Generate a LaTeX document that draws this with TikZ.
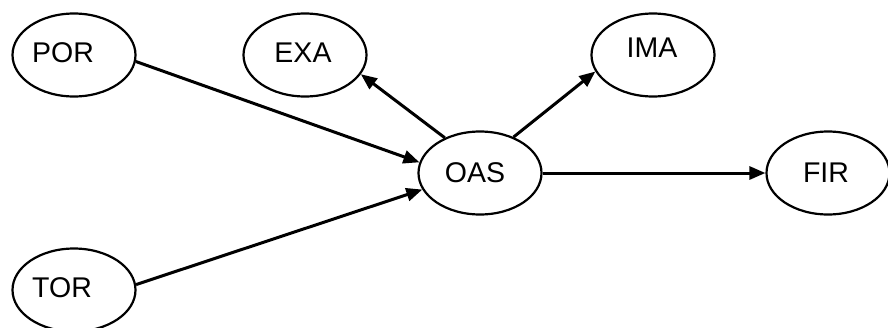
\documentclass[tikz,border=0pt]{standalone}
\usepackage{fontspec}
\setmainfont{Liberation Sans}
\usetikzlibrary{shapes.geometric,arrows.meta}

\tikzset{
  oval/.style={draw, ellipse, line width=2.2pt, minimum width=123pt, minimum height=83pt, inner sep=0pt},
  lbl/.style={font=\fontsize{28.5}{31}\selectfont, inner sep=0pt},
  link/.style={line width=3pt, -{Triangle[length=16pt,width=13pt]}}
}

\begin{document}
\begin{tikzpicture}[x=1pt,y=-1pt]
  \useasboundingbox (0,0) rectangle (888,327);
  \clip (0,0) rectangle (888,327);
  \fill[white] (0,0) rectangle (888,327);

  % ellipses
  \node[oval] (por) at (74,55) {};
  \node[oval] (exa) at (305,55) {};
  \node[oval] (ima) at (653,55) {};
  \node[oval] (oas) at (480,173) {};
  \node[oval] (fir) at (828,173) {};
  \node[oval] (tor) at (74,290) {};

  % labels
  \node[lbl] (porT) at (63,53) {POR};
  \node[lbl] (exaT) at (303,53) {EXA};
  \node[lbl] (imaT) at (652,48) {IMA};
  \node[lbl] (oasT) at (475,173) {OAS};
  \node[lbl] (firT) at (826,173) {FIR};
  \node[lbl] (torT) at (62,288) {TOR};

  % connectors
  \draw[link] (por.-6) -- (oas.170);
  \draw[link] (tor.5) -- (oas.196);
  \draw[link] (oas.135) -- (exa.-19);
  \draw[link] (oas.47) -- (ima.196);
  \draw[link] (oas.east) -- (fir.west);
\end{tikzpicture}
\end{document}
